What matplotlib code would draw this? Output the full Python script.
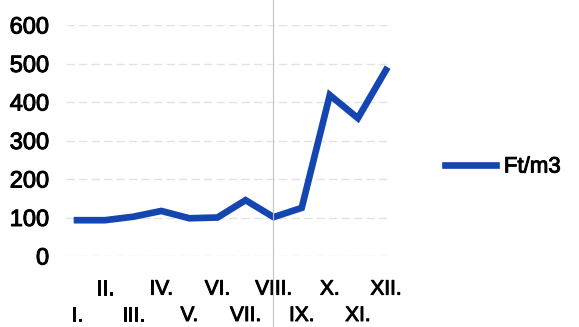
import matplotlib
matplotlib.use("Agg")
import matplotlib.pyplot as plt
import matplotlib.patheffects as pe
from matplotlib.lines import Line2D

plt.rcParams['font.family'] = ['Liberation Sans', 'DejaVu Sans']

# monthly values
months = ["I.", "II.", "III.", "IV.", "V.", "VI.", "VII.", "VIII.", "IX.", "X.", "XI.", "XII."]
ft_m3 = [93, 93, 102, 117, 98, 100, 145, 101, 125, 418, 358, 483]
y_ticks = [0, 100, 200, 300, 400, 500, 600]

line_color = "#1446b2"
thick = [pe.withStroke(linewidth=0.7, foreground="black")]

fig = plt.figure(figsize=(5.79, 3.27), dpi=100)
ax = fig.add_axes([63 / 579, 1 - 256 / 327, (400 - 63) / 579, (256 - 25) / 327])

x = list(range(len(months)))
ax.plot(x, ft_m3, color=line_color, lw=4.8, solid_joinstyle="miter", zorder=3)

ax.set_ylim(0, 600)
ax.set_xlim(-0.5, 11.5)
ax.set_yticks(y_ticks)
ax.set_yticklabels([str(v) for v in y_ticks], fontsize=17)
ax.tick_params(axis="y", length=0, pad=10)

# staggered month labels: even months on the upper row, odd months lower
ax.set_xticks(x[1::2])
ax.set_xticklabels(months[1::2], fontsize=15)
ax.set_xticks(x[0::2], minor=True)
ax.set_xticklabels(months[0::2], minor=True, fontsize=15)
ax.tick_params(axis="x", which="major", length=0, pad=17)
ax.tick_params(axis="x", which="minor", length=0, pad=36)

for lbl in ax.get_xticklabels() + ax.get_xticklabels(minor=True) + ax.get_yticklabels():
    lbl.set_path_effects(thick)

for v in y_ticks:
    ax.axhline(v, xmin=0.01, xmax=0.97, color="#e2e2e2", lw=1.0,
               linestyle=(0, (6, 3)), zorder=1)

for s in ax.spines.values():
    s.set_visible(False)

# legend
handle = Line2D([], [], color=line_color, lw=4.8)
leg = fig.legend([handle], ["Ft/m3"], loc="center left", bbox_to_anchor=(425 / 579, 1 - 167 / 327),
                 frameon=False, fontsize=16, handlelength=2.3, handletextpad=0.35)
for t in leg.get_texts():
    t.set_path_effects(thick)

# thin fold line across the sheet
fig.add_artist(Line2D([273 / 579, 273 / 579], [0, 1], color="#c4c4c4", lw=0.8))

fig.savefig("out.png", dpi=100)
